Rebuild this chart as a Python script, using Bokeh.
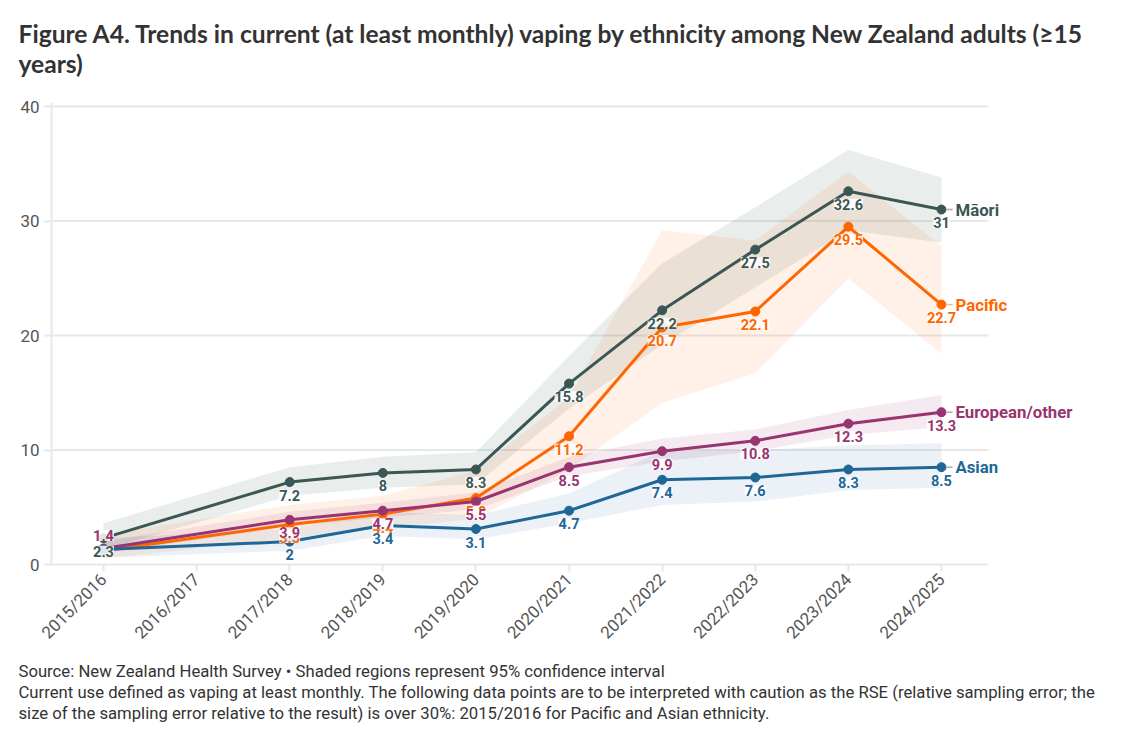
import math
from bokeh.plotting import figure
from bokeh.models import Range1d, FixedTicker, Title, ColumnDataSource
from bokeh.core.properties import value
from bokeh.embed import file_html
from bokeh.resources import INLINE

categories = ["2015/2016", "2016/2017", "2017/2018", "2018/2019", "2019/2020",
              "2020/2021", "2021/2022", "2022/2023", "2023/2024", "2024/2025"]
# 2016/2017 has no data
x_idx = [0, 2, 3, 4, 5, 6, 7, 8, 9]

maori = [2.3, 7.2, 8.0, 8.3, 15.8, 22.2, 27.5, 32.6, 31.0]
maori_lo = [1.3, 6.0, 6.7, 7.0, 13.6, 19.2, 24.2, 29.2, 28.1]
maori_hi = [3.6, 8.5, 9.4, 9.8, 18.2, 26.3, 31.2, 36.2, 33.8]

pacific = [1.2, 3.5, 4.4, 5.8, 11.2, 20.7, 22.1, 29.5, 22.7]
pacific_lo = [0.5, 2.3, 3.2, 4.0, 8.3, 14.1, 16.7, 25.0, 18.4]
pacific_hi = [2.6, 5.2, 6.0, 8.2, 14.6, 29.2, 28.3, 34.3, 27.8]

european = [1.4, 3.9, 4.7, 5.5, 8.5, 9.9, 10.8, 12.3, 13.3]
european_lo = [1.0, 3.3, 4.1, 4.8, 7.7, 9.0, 9.9, 11.3, 12.0]
european_hi = [2.0, 4.6, 5.4, 6.3, 9.4, 11.0, 11.8, 13.5, 14.8]

asian = [1.3, 2.0, 3.4, 3.1, 4.7, 7.4, 7.6, 8.3, 8.5]
asian_lo = [0.6, 1.2, 2.5, 2.2, 3.6, 5.2, 5.5, 6.5, 6.7]
asian_hi = [2.3, 3.1, 4.6, 4.3, 6.2, 9.9, 10.0, 10.4, 10.6]

y_ticks = [0, 10, 20, 30, 40]

series_names = ["Māori", "Pacific", "European/other", "Asian"]
colors = {"Māori": "#3b5754", "Pacific": "#ff6600", "European/other": "#983470", "Asian": "#1f6796"}
band_alpha = {"Māori": 0.11, "Pacific": 0.09, "European/other": 0.10, "Asian": 0.09}
data = {
    "Māori": (maori, maori_lo, maori_hi),
    "Pacific": (pacific, pacific_lo, pacific_hi),
    "European/other": (european, european_lo, european_hi),
    "Asian": (asian, asian_lo, asian_hi),
}

FONT = "Roboto"
X0, X_AXIS_END, X1 = -0.5585, 9.505, 10.955
GRID = "#e8e8e8"

p = figure(width=1133, height=741, output_backend="svg", toolbar_location=None,
           x_range=Range1d(X0, X1), y_range=Range1d(0, 40.35),
           min_border_left=51, min_border_right=10, min_border_top=102, min_border_bottom=177)
p.outline_line_color = None
p.background_fill_color = "white"

# axes
p.xaxis.ticker = FixedTicker(ticks=list(range(len(categories))))
p.xaxis.major_label_overrides = {i: c for i, c in enumerate(categories)}
p.xaxis.major_label_orientation = math.pi / 4
p.xaxis.bounds = (X0, X_AXIS_END)
p.yaxis.ticker = FixedTicker(ticks=y_ticks)
for ax in (p.xaxis, p.yaxis):
    ax.axis_line_color = GRID
    ax.axis_line_width = 2
    ax.major_tick_line_color = GRID
    ax.major_tick_line_width = 2
    ax.major_tick_out = 7
    ax.major_tick_in = 0
    ax.minor_tick_line_color = None
    ax.major_label_text_font = FONT
    ax.major_label_text_font_size = "17px"
    ax.major_label_text_color = "#555555"
p.xaxis.major_label_standoff = 5
p.yaxis.major_label_standoff = 5
p.xgrid.grid_line_color = None
p.ygrid.grid_line_color = None

# horizontal grid lines limited to the chart area
gy = [t for t in y_ticks if t > 0]
p.segment(x0=[X0] * len(gy), x1=[X_AXIS_END] * len(gy), y0=gy, y1=gy,
          line_color=GRID, line_width=2, level="underlay")

# bands
for name in series_names:
    v, lo, hi = data[name]
    p.varea(x=x_idx, y1=lo, y2=hi, fill_color=colors[name], fill_alpha=band_alpha[name])

# lines and points
for name in ["Pacific", "European/other", "Asian", "Māori"]:
    v, lo, hi = data[name]
    p.line(x=x_idx, y=v, line_color=colors[name], line_width=3)
    p.scatter(x=x_idx, y=v, size=9, fill_color=colors[name], line_color=colors[name])

# value labels
label_order = ["Asian", "Pacific", "European/other", "Māori"]
for name in label_order:
    v, lo, hi = data[name]
    xs, ys, txt, offs = [], [], [], []
    for xx, yy in zip(x_idx, v):
        if xx == 0 and name in ("Pacific", "Asian"):
            continue
        xs.append(xx)
        ys.append(yy)
        txt.append(f"{yy:g}")
        offs.append(-13 if (xx == 0 and name == "European/other") else 13)
    src = ColumnDataSource(dict(x=xs, y=ys, t=txt, off=offs))
    p.text(x="x", y="y", text="t", y_offset="off", source=src,
           text_align="center", text_baseline="middle",
           text_font=value(FONT), text_font_size="14.5px", text_font_style="bold",
           text_color=colors[name],
           background_fill_color="white", background_fill_alpha=0.85, padding=0)

# end labels
last_x = [x_idx[-1]] * 4
last_y = [data[n][0][-1] for n in series_names]
p.segment(x0=[x_idx[-1] + 0.06] * 4, x1=[x_idx[-1] + 0.12] * 4, y0=last_y, y1=last_y,
          line_color=[colors[n] for n in series_names], line_alpha=0.5, line_width=1.5)
p.text(x=last_x, y=last_y, text=series_names, x_offset=14,
       text_align="left", text_baseline="middle",
       text_font=value(FONT), text_font_size="16.8px", text_font_style="bold",
       text_color=[colors[n] for n in series_names])

# title (first added is nearest the plot); a blank spacer sits between plot and title
title1 = "Figure A4. Trends in current (at least monthly) vaping by ethnicity among New Zealand adults (≥15"
title2 = "years)"
for t, so in ((" ", -6), (title2, 0), (title1, -3)):
    p.add_layout(Title(text=t, align="left", offset=-33, standoff=so, text_font="Lato",
                       text_font_size="24.6px", text_font_style="bold",
                       text_color="#333333"), "above")

footer = [
    "Source: New Zealand Health Survey • Shaded regions represent 95% confidence interval",
    "Current use defined as vaping at least monthly. The following data points are to be interpreted with caution as the RSE (relative sampling error; the",
    "size of the sampling error relative to the result) is over 30%: 2015/2016 for Pacific and Asian ethnicity.",
]
for t, so in zip(footer, (14, -13, 12)):
    p.add_layout(Title(text=t, align="left", offset=-33, standoff=so, text_font=FONT,
                       text_font_size="16.7px", text_font_style="normal",
                       text_color="#333333"), "below")

open("out.html", "w").write(file_html(p, INLINE))
